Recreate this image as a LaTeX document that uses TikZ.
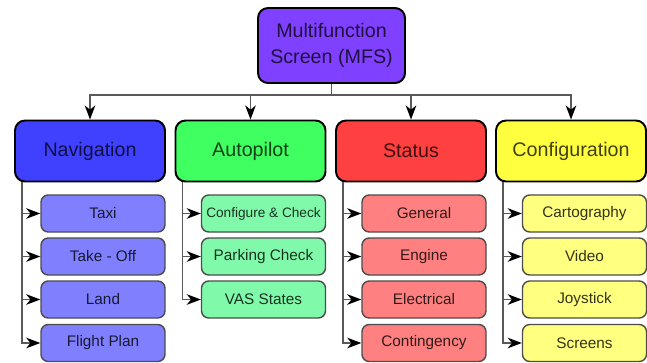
\documentclass[tikz,border=0pt]{standalone}
\usepackage{fontspec}
\setmainfont{Liberation Sans}
\usetikzlibrary{calc,arrows.meta}

\definecolor{mfscol}{RGB}{128,64,255}
\definecolor{navcol}{RGB}{64,64,255}
\definecolor{autocol}{RGB}{64,255,96}
\definecolor{statcol}{RGB}{255,64,64}
\definecolor{confcol}{RGB}{255,255,64}
\definecolor{navlight}{RGB}{128,128,255}
\definecolor{autolight}{RGB}{128,250,170}
\definecolor{statlight}{RGB}{255,128,128}
\definecolor{conflight}{RGB}{255,255,128}

\begin{document}
\begin{tikzpicture}[
  box/.style={draw=black, line width=1.4pt, rounded corners=0.25cm, fill=#1,
    text=#1!25!black, minimum width=3.75cm, minimum height=1.525cm,
    inner sep=0pt, align=center, font=\fontsize{14}{18.5}\selectfont},
  item/.style={draw=black!70, line width=1pt, rounded corners=0.18cm, fill=#1,
    text=#1!20!black, minimum width=3.1cm, minimum height=0.925cm,
    inner sep=0pt, font=\fontsize{10.9}{12}\selectfont},
  link/.style={draw=black!65, line width=1.1pt},
  tip/.style={-{Stealth[length=10pt,width=7.5pt,inset=3pt,color=black]}}
]
  \useasboundingbox (0,0) rectangle (16.175,9.05);

  \node[box=mfscol, minimum width=3.675cm, minimum height=1.875cm] (mfs) at (8.2875,7.9125) {Multifunction\\Screen (MFS)};

  \node[box=navcol] (nav) at (2.25,5.275) {Navigation};
  \node[box=autocol] (auto) at (6.2625,5.275) {Autopilot};
  \node[box=statcol] (stat) at (10.275,5.275) {Status};
  \node[box=confcol] (conf) at (14.275,5.275) {Configuration};

  \node[item=navlight] (taxi) at (2.575,3.7125) {Taxi};
  \node[item=navlight] (takeoff) at (2.575,2.6375) {Take - Off};
  \node[item=navlight] (land) at (2.575,1.5625) {Land};
  \node[item=navlight] (plan) at (2.575,0.475) {Flight Plan};

  \node[item=autolight, font=\fontsize{9.7}{11}\selectfont] (check) at (6.5875,3.7125) {Configure \& Check};
  \node[item=autolight] (parking) at (6.5875,2.6375) {Parking Check};
  \node[item=autolight] (vas) at (6.5875,1.5625) {VAS States};

  \node[item=statlight] (general) at (10.6,3.7125) {General};
  \node[item=statlight] (engine) at (10.6,2.6375) {Engine};
  \node[item=statlight] (electric) at (10.6,1.5625) {Electrical};
  \node[item=statlight] (conting) at (10.6,0.475) {Contingency};

  \node[item=conflight] (carto) at (14.6125,3.7125) {Cartography};
  \node[item=conflight] (video) at (14.6125,2.6375) {Video};
  \node[item=conflight] (joy) at (14.6125,1.5625) {Joystick};
  \node[item=conflight] (screens) at (14.6125,0.475) {Screens};

  % top level
  \coordinate (bus) at (0,6.675);
  \draw[link] (mfs.south) -- (mfs.south |- bus);
  \draw[link, tip] (mfs.south |- bus) -| (nav.north);
  \draw[link, tip] (mfs.south |- bus) -| (auto.north);
  \draw[link, tip] (mfs.south |- bus) -| (stat.north);
  \draw[link, tip] (mfs.south |- bus) -| (conf.north);

  % navigation
  \draw[link, tip] ($(nav.south west)+(0.2,0)$) |- (taxi.west);
  \draw[link, tip] ($(nav.south west)+(0.2,0)$) |- (takeoff.west);
  \draw[link, tip] ($(nav.south west)+(0.2,0)$) |- (land.west);
  \draw[link, tip] ($(nav.south west)+(0.2,0)$) |- (plan.west);

  % autopilot
  \draw[link, tip] ($(auto.south west)+(0.2,0)$) |- (check.west);
  \draw[link, tip] ($(auto.south west)+(0.2,0)$) |- (parking.west);
  \draw[link, tip] ($(auto.south west)+(0.2,0)$) |- (vas.west);

  % status
  \draw[link, tip] ($(stat.south west)+(0.2,0)$) |- (general.west);
  \draw[link, tip] ($(stat.south west)+(0.2,0)$) |- (engine.west);
  \draw[link, tip] ($(stat.south west)+(0.2,0)$) |- (electric.west);
  \draw[link, tip] ($(stat.south west)+(0.2,0)$) |- (conting.west);

  % configuration
  \draw[link, tip] ($(conf.south west)+(0.2,0)$) |- (carto.west);
  \draw[link, tip] ($(conf.south west)+(0.2,0)$) |- (video.west);
  \draw[link, tip] ($(conf.south west)+(0.2,0)$) |- (joy.west);
  \draw[link, tip] ($(conf.south west)+(0.2,0)$) |- (screens.west);
\end{tikzpicture}
\end{document}
